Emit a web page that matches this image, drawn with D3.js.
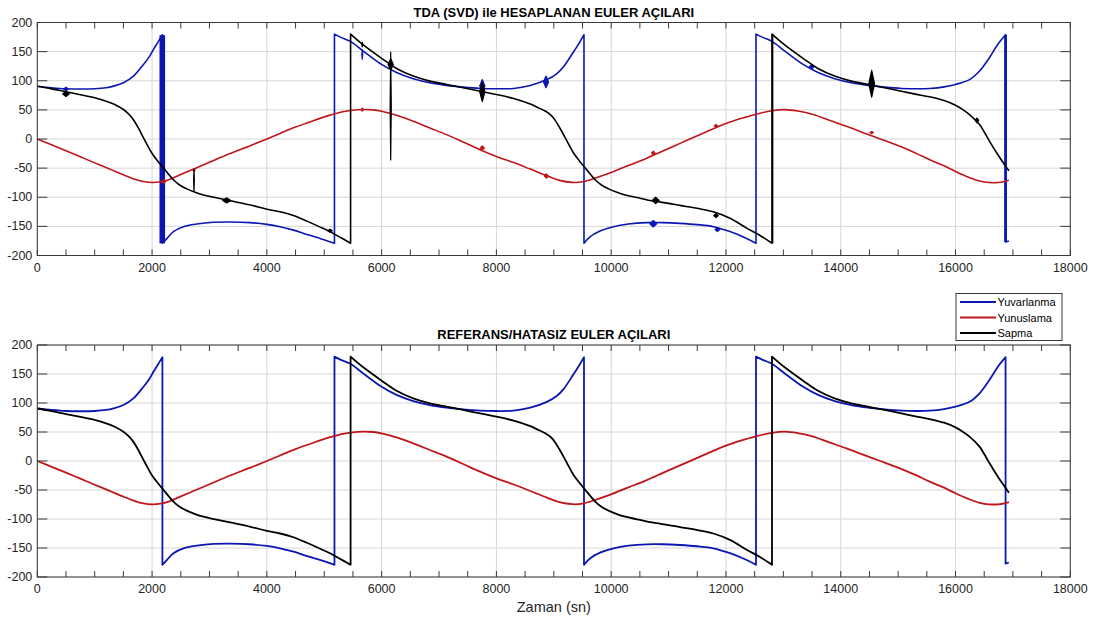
<!DOCTYPE html>
<html>
<head>
<meta charset="utf-8">
<script src="https://cdn.jsdelivr.net/npm/d3@7"></script>
<style>
  html, body { margin: 0; padding: 0; background: #ffffff; }
  svg { display: block; font-family: "Liberation Sans", Arial, Helvetica, sans-serif; }
</style>
</head>
<body>
<svg id="chart" width="1100" height="622"></svg>
<script>
// ---- Eksen değerleri ----
const xTicks = [0, 2000, 4000, 6000, 8000, 10000, 12000, 14000, 16000, 18000];
const xMinorTicks = [500, 1000, 1500, 2500, 3000, 3500, 4500, 5000, 5500, 6500, 7000, 7500,
  8500, 9000, 9500, 10500, 11000, 11500, 12500, 13000, 13500, 14500, 15000, 15500,
  16500, 17000, 17500];
const yTicks = [-200, -150, -100, -50, 0, 50, 100, 150, 200];

const seriesNames = ["Yuvarlanma", "Yunuslama", "Sapma"];
const seriesColors = ["#0b17b2", "#c0161a", "#000000"];

// ---- Euler açıları [zaman (sn), açı (derece)] ----
// Aynı zamanda iki nokta: ±180 sarması (açı atlaması)
const yuvarlanma = [
  [0, 90.5], [250, 88], [500, 86.2], [750, 85.8], [1000, 86.2], [1200, 88], [1330, 90.8],
  [1500, 96.5], [1675, 108], [1850, 128], [1950, 141], [2025, 154], [2100, 166], [2180, 179],
  [2180, -179], [2256, -171], [2372, -159], [2547, -150.6], [2780, -146], [3070, -143],
  [3360, -142.5], [3700, -143.5], [4000, -146.5], [4230, -150.5], [4450, -156], [4700, -164],
  [4950, -171.5], [5178, -179],
  [5178, 180], [5300, 174], [5450, 168], [5680, 151], [6000, 128], [6260, 114], [6550, 103.4],
  [6840, 96.5], [7130, 92], [7420, 89], [7715, 86.8], [8000, 86.2], [8300, 86.8], [8590, 92],
  [8880, 102], [9050, 112], [9170, 124], [9340, 149], [9450, 166], [9526, 179],
  [9526, -179], [9631, -168], [9805, -158], [10040, -150.5], [10300, -146], [10620, -143.6],
  [10900, -143.5], [11200, -144.8], [11500, -147], [11780, -150.5], [12070, -159],
  [12360, -170.7], [12523, -179],
  [12523, 180], [12650, 174], [12795, 168], [13025, 151], [13345, 128], [13605, 114],
  [13895, 103.4], [14185, 96.5], [14475, 92], [14765, 89], [15060, 86.8], [15345, 86.2],
  [15550, 86.8], [15800, 89.5], [16000, 93.7], [16244, 102], [16419, 116.7], [16593, 140],
  [16738, 162.6], [16872, 179],
  [16872, -177], [16930, -175]
];

const yunuslama = [
  [0, 0], [250, -10], [500, -20], [750, -30.5], [1000, -41], [1250, -51], [1500, -61.5],
  [1700, -69], [1850, -73], [2000, -74.7], [2150, -73.5], [2300, -69.5], [2490, -61.5],
  [2750, -50.5], [3010, -39.6], [3360, -25], [3700, -12], [4000, 0], [4230, 9.5], [4500, 20.5],
  [4810, 31.5], [5100, 41], [5300, 46.5], [5460, 49], [5680, 50.6], [5850, 50], [6000, 47.7],
  [6260, 40.8], [6550, 30.5], [6840, 19], [7130, 7.5], [7420, -5.2], [7715, -18.4],
  [8000, -30], [8300, -40.5], [8590, -51.7], [8880, -63], [9100, -71], [9320, -74.5],
  [9500, -73.5], [9750, -66], [10010, -57], [10300, -45.5], [10620, -33], [10900, -20.5],
  [11200, -7.5], [11500, 5.5], [11780, 17.5], [12070, 29], [12360, 38], [12520, 42.5],
  [12800, 48.5], [13030, 50.5], [13250, 48], [13520, 42], [13800, 32], [14100, 21.8],
  [14400, 10.5], [14690, 0], [15030, -12.6], [15300, -24], [15550, -35.6], [15800, -46],
  [16000, -55.7], [16240, -66], [16420, -72], [16590, -74.7], [16740, -74.7], [16855, -73],
  [16930, -71]
];

const sapma = [
  [0, 90.5], [250, 86], [500, 81], [750, 76], [1000, 70.7], [1200, 65], [1330, 60],
  [1500, 50.6], [1600, 42], [1675, 33], [1760, 19], [1850, 2], [1920, -11], [1994, -24],
  [2100, -38], [2200, -50], [2372, -70], [2480, -79], [2605, -85.6], [2750, -91.5],
  [2895, -96], [3100, -100.5], [3360, -106], [3700, -113], [4000, -120.5], [4230, -125],
  [4450, -131], [4700, -141], [4900, -150], [5100, -159], [5300, -170], [5459, -179],
  [5459, 180], [5680, 161.5], [6000, 138.5], [6260, 121], [6550, 108], [6840, 99.4],
  [7130, 93.7], [7420, 88], [7715, 82], [8000, 76.4], [8300, 69.5], [8590, 60], [8700, 55],
  [8850, 48], [8950, 41], [9025, 32], [9110, 18], [9200, 2], [9270, -11], [9344, -24],
  [9450, -38], [9550, -50], [9722, -70], [9830, -79], [9955, -85.6], [10100, -91.5],
  [10245, -96], [10450, -100.5], [10710, -106], [11000, -110.5], [11200, -114],
  [11500, -119], [11780, -125], [12070, -136], [12360, -153], [12600, -166], [12802, -179],
  [12802, 180], [13023, 161.5], [13343, 138.5], [13603, 121], [13893, 108], [14183, 99.4],
  [14473, 93.7], [14763, 88], [15058, 82], [15300, 77], [15547, 72.4], [15800, 66],
  [16000, 58], [16120, 51], [16244, 42], [16419, 24.7], [16500, 12], [16593, -4],
  [16738, -27], [16855, -44], [16930, -54.6]
];

// TDA (SVD) kestiriminde gürültü patlamaları: [seri, zaman, üst, alt, yarım genişlik (sn)]
const tdaBursts = [
  [0, 500, 89, 83, 40], [2, 500, 82, 73, 60],
  [1, 2200, -70, -76, 40], [1, 2730, -51, -56, 20], [2, 2730, -52, -90, 6],
  [2, 3300, -101, -110, 70], [2, 5100, -155, -160, 40],
  [0, 5663, 153, 137, 8], [2, 5663, 166, 158, 8], [1, 5663, 53, 48, 20],
  [2, 6158, 149, -36, 10], [2, 6158, 138, 118, 45],
  [0, 7754, 102, 80, 45], [2, 7754, 98, 64, 45], [1, 7754, -12, -19, 35],
  [0, 8864, 108, 88, 45], [1, 8870, -60, -67, 35],
  [0, 10734, -140, -151, 60], [2, 10775, -100, -111, 60], [1, 10734, -21, -27, 30],
  [2, 11826, -128, -135, 40], [0, 11850, -152, -159, 40], [1, 11826, 25, 20, 30],
  [0, 13494, 128, 120, 40], [2, 14539, 118, 72, 50], [1, 14539, 13, 9, 30],
  [2, 16374, 36, 28, 30]
];
// TDA kestiriminde ±180 civarındaki ek sarmalar: [seri, zaman, üst, alt]
const tdaFlips = [
  [0, 2143, 178, -179], [0, 2160, 178, -179], [0, 2200, 178, -179], [0, 2213, 178, -179],
  [2, 12812, 179, -179], [0, 16862, 179, -177], [0, 16882, 179, -177]
];

// ---- Yerleşim ----
const svg = d3.select("#chart");
const axLeft = 37.3, axRight = 1070.3;
const panels = [
  { top: 22.5, bottom: 255.5, title: "TDA (SVD) ile HESAPLANAN EULER AÇILARI", noisy: true },
  { top: 345, bottom: 577, title: "REFERANS/HATASIZ EULER AÇILARI", noisy: false }
];
const allSeries = [yuvarlanma, yunuslama, sapma];

const x = d3.scaleLinear().domain([0, 18000]).range([axLeft, axRight]);

// Sarma noktalarında parçalara ayırıp düzgün eğriyle çiz, atlamaları düz çizgiyle bağla
function wrappedPath(data, y) {
  const runs = [];
  let cur = [data[0]];
  for (let i = 1; i < data.length; i++) {
    if (data[i][0] <= data[i - 1][0]) { runs.push(cur); cur = []; }
    cur.push(data[i]);
  }
  runs.push(cur);
  const line = d3.line().x(d => x(d[0])).y(d => y(d[1])).curve(d3.curveCatmullRom.alpha(0.5));
  return runs.map((r, i) => {
    const p = line(r);
    return i === 0 ? p : "L" + p.slice(1);
  }).join("");
}

panels.forEach((pn, pi) => {
  const y = d3.scaleLinear().domain([-200, 200]).range([pn.bottom, pn.top]);
  const g = svg.append("g");
  const clipId = "clip" + pi;
  svg.append("clipPath").attr("id", clipId).append("rect")
    .attr("x", axLeft).attr("y", pn.top)
    .attr("width", axRight - axLeft).attr("height", pn.bottom - pn.top);

  // ızgara
  g.append("g").selectAll("line").data(xTicks).join("line")
    .attr("x1", d => x(d)).attr("x2", d => x(d))
    .attr("y1", pn.top).attr("y2", pn.bottom)
    .attr("stroke", "#d6d6d6").attr("stroke-width", 1);
  g.append("g").selectAll("line").data(yTicks).join("line")
    .attr("x1", axLeft).attr("x2", axRight)
    .attr("y1", d => y(d)).attr("y2", d => y(d))
    .attr("stroke", "#d6d6d6").attr("stroke-width", 1);

  // eğriler
  const lines = g.append("g").attr("clip-path", `url(#${clipId})`);
  const sw = pn.noisy ? 1.6 : 1.8;
  allSeries.forEach((s, si) => {
    lines.append("path")
      .attr("d", wrappedPath(s, y))
      .attr("fill", "none")
      .attr("stroke", seriesColors[si])
      .attr("stroke-width", sw)
      .attr("stroke-linejoin", "round");
    if (pn.noisy) {
      tdaFlips.filter(f => f[0] === si).forEach(f => {
        lines.append("line")
          .attr("x1", x(f[1])).attr("x2", x(f[1]))
          .attr("y1", y(f[2])).attr("y2", y(f[3]))
          .attr("stroke", seriesColors[si]).attr("stroke-width", sw);
      });
      tdaBursts.filter(b => b[0] === si).forEach(b => {
        const [, t, hi, lo, w] = b;
        const mid = (hi + lo) / 2;
        const pts = [[t - w, mid], [t, hi], [t + w, mid], [t, lo]];
        lines.append("path")
          .attr("d", "M" + pts.map(p => `${x(p[0])},${y(p[1])}`).join("L") + "Z")
          .attr("fill", seriesColors[si])
          .attr("stroke", seriesColors[si]).attr("stroke-width", 1.2)
          .attr("stroke-linejoin", "round");
      });
    }
  });

  // çerçeve ve tik işaretleri
  const axisColor = "#3a3a3a";
  g.append("rect")
    .attr("x", axLeft).attr("y", pn.top)
    .attr("width", axRight - axLeft).attr("height", pn.bottom - pn.top)
    .attr("fill", "none").attr("stroke", axisColor).attr("stroke-width", 1);

  const xtl = 6, ytl = 10;
  const tickG = g.append("g").attr("stroke", axisColor).attr("stroke-width", 1);
  xTicks.concat(xMinorTicks).forEach(t => {
    tickG.append("line").attr("x1", x(t)).attr("x2", x(t))
      .attr("y1", pn.bottom).attr("y2", pn.bottom - xtl);
    tickG.append("line").attr("x1", x(t)).attr("x2", x(t))
      .attr("y1", pn.top).attr("y2", pn.top + xtl);
  });
  yTicks.forEach(v => {
    tickG.append("line").attr("x1", axLeft).attr("x2", axLeft + ytl)
      .attr("y1", y(v)).attr("y2", y(v));
    tickG.append("line").attr("x1", axRight).attr("x2", axRight - ytl)
      .attr("y1", y(v)).attr("y2", y(v));
  });

  // tik etiketleri
  g.append("g").selectAll("text").data(xTicks).join("text")
    .attr("x", d => x(d)).attr("y", pn.bottom + 12)
    .attr("dominant-baseline", "central")
    .attr("text-anchor", "middle")
    .attr("font-size", 12.5).attr("fill", "#262626")
    .text(d => String(d));
  g.append("g").selectAll("text").data(yTicks).join("text")
    .attr("x", axLeft - 5).attr("y", d => y(d))
    .attr("dominant-baseline", "central")
    .attr("text-anchor", "end")
    .attr("font-size", 12.5).attr("fill", "#262626")
    .text(d => String(d));

  // başlık
  g.append("text")
    .attr("x", (axLeft + axRight) / 2).attr("y", pn.top - 6)
    .attr("text-anchor", "middle")
    .attr("font-size", 13).attr("font-weight", "bold").attr("fill", "#000")
    .text(pn.title);
});

// x ekseni adı
svg.append("text")
  .attr("x", (axLeft + axRight) / 2).attr("y", 607)
  .attr("dominant-baseline", "central")
  .attr("text-anchor", "middle")
  .attr("font-size", 14.5).attr("fill", "#262626")
  .text("Zaman (sn)");

// gösterge
const leg = svg.append("g");
leg.append("rect")
  .attr("x", 956).attr("y", 293.5).attr("width", 106).attr("height", 47)
  .attr("fill", "#ffffff").attr("stroke", "#3a3a3a").attr("stroke-width", 1);
seriesNames.forEach((name, i) => {
  const yy = 302 + i * 15.5;
  leg.append("line")
    .attr("x1", 960).attr("x2", 996).attr("y1", yy).attr("y2", yy)
    .attr("stroke", seriesColors[i]).attr("stroke-width", 1.8);
  leg.append("text")
    .attr("x", 997.5).attr("y", yy)
    .attr("dominant-baseline", "central")
    .attr("font-size", 11).attr("fill", "#000")
    .text(name);
});
</script>
</body>
</html>
